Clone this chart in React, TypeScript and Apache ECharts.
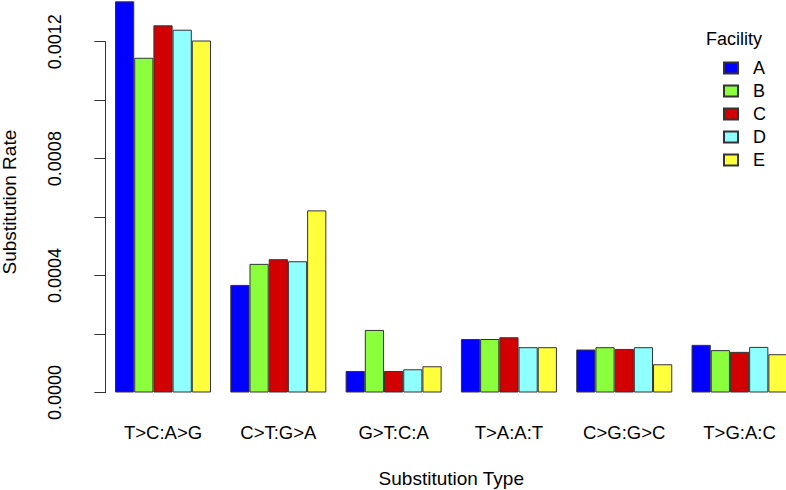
import React, { useEffect, useRef } from "react";
import * as echarts from "echarts";

const categories = ["T>C:A>G", "C>T:G>A", "G>T:C:A", "T>A:A:T", "C>G:G>C", "T>G:A:C"];
const facilities = ["A", "B", "C", "D", "E"];
const colors = ["#0000FF", "#8CFF3C", "#D20000", "#8FFFFF", "#FFFF3C"];
const valuesA = [0.001338, 0.000368, 0.0000736, 0.000183, 0.000147, 0.000163];
const valuesB = [0.001145, 0.00044, 0.000214, 0.000183, 0.000155, 0.000145];
const valuesC = [0.001256, 0.000456, 0.0000736, 0.000189, 0.000149, 0.000139];
const valuesD = [0.001241, 0.000449, 0.0000794, 0.000155, 0.000155, 0.000156];
const valuesE = [0.001204, 0.000623, 0.0000897, 0.000155, 0.0000966, 0.000131];
const allValues = [valuesA, valuesB, valuesC, valuesD, valuesE];
const yTicks = [0, 0.0002, 0.0004, 0.0006, 0.0008, 0.001, 0.0012];

const FONT = "Liberation Sans, Arial, Helvetica, sans-serif";

export default function App() {
  const ref = useRef<HTMLDivElement>(null);
  useEffect(() => {
    document.body.style.margin = "0";
    const chart = echarts.init(ref.current!, null, { renderer: "svg" });
    chart.setOption({
      animation: false,
      backgroundColor: "#ffffff",
      textStyle: { fontFamily: FONT },
      title: {
        text: "Facility",
        left: 706,
        top: 30,
        padding: 0,
        textStyle: { fontFamily: FONT, fontSize: 18, fontWeight: "normal", color: "#000" },
      },
      legend: {
        orient: "vertical",
        left: 723,
        top: 59,
        padding: 0,
        itemWidth: 14,
        itemHeight: 11,
        itemGap: 5,
        icon: "rect",
        data: facilities,
        textStyle: { fontFamily: FONT, fontSize: 18, color: "#000", lineHeight: 18, padding: [0, 0, 0, 10] },
      },
      grid: {
        left: 105.35,
        width: 691.85,
        top: 41.7,
        bottom: 97.5,
        containLabel: false,
        outerBoundsMode: "none",
      },
      xAxis: {
        type: "category",
        data: categories,
        name: "Substitution Type",
        nameLocation: "middle",
        nameGap: 76,
        nameTextStyle: { fontFamily: FONT, fontSize: 19, color: "#000" },
        axisLine: { show: false },
        axisTick: { show: false },
        axisLabel: { fontFamily: FONT, fontSize: 18.5, color: "#000", margin: 30, interval: 0 },
      },
      yAxis: {
        type: "value",
        min: 0,
        max: 0.0012,
        interval: 0.0002,
        name: "Substitution Rate",
        nameLocation: "middle",
        nameGap: 86,
        nameTextStyle: { fontFamily: FONT, fontSize: 19, color: "#000", padding: [0, 0, 0, 30] },
        splitLine: { show: false },
        axisLine: { show: true, lineStyle: { color: "#333", width: 1 } },
        axisTick: { show: true, length: 11, lineStyle: { color: "#333", width: 1 } },
        axisLabel: {
          fontFamily: FONT,
          fontSize: 18,
          color: "#000",
          rotate: 90,
          margin: 41,
          formatter: (v: number) => {
            const i = yTicks.findIndex((t) => Math.abs(t - v) < 1e-9);
            return i >= 0 && i % 2 === 0 ? v.toFixed(4) : "";
          },
        },
      },
      series: facilities.map((f, i) => ({
        name: f,
        type: "bar",
        data: allValues[i],
        barWidth: 19.2,
        barGap: "0%",
        clip: false,
        itemStyle: { color: colors[i], borderColor: "#333", borderWidth: 1 },
      })),
    });
    return () => chart.dispose();
  }, []);
  return <div ref={ref} style={{ width: 786, height: 490 }} />;
}
